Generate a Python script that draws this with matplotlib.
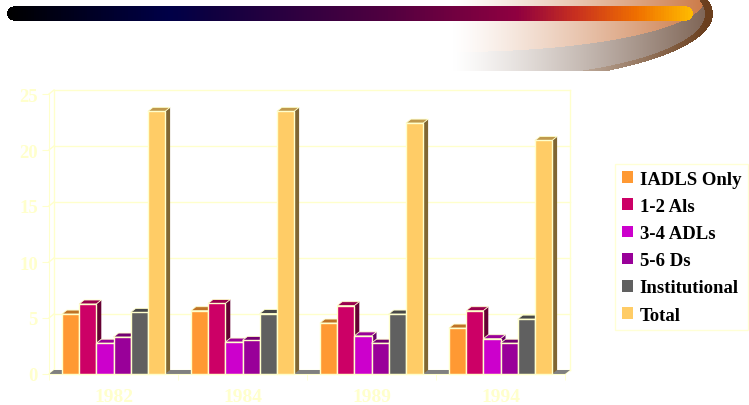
import numpy as np
import matplotlib.pyplot as plt
from matplotlib.patches import Polygon, Patch
from matplotlib.colors import LinearSegmentedColormap, to_rgb

# data
years = ['1982', '1984', '1989', '1994']
series = ['IADLS Only', '1-2 Als', '3-4 ADLs', '5-6 Ds', 'Institutional', 'Total']
iadls = [5.35, 5.65, 4.55, 4.1]
als_12 = [6.25, 6.3, 6.1, 5.65]
adls_34 = [2.75, 2.85, 3.4, 3.15]
ds_56 = [3.3, 3.0, 2.75, 2.75]
institutional = [5.5, 5.4, 5.35, 4.9]
total = [23.45, 23.45, 22.4, 20.85]
values = [iadls, als_12, adls_34, ds_56, institutional, total]
colors = ['#FF9933', '#CC0066', '#CC00CC', '#990099', '#606060', '#FFCC66']

W, H = 749, 406
fig = plt.figure(figsize=(W / 100, H / 100), dpi=100)

# --- header decoration (gradient bar + swoosh) as a background image ---
yy, xx = np.mgrid[0:H, 0:W] + 0.5
img = np.ones((H, W, 3))

t = np.clip((xx - 453) / (705 - 453), 0, 1) ** 1.2
inside = (((xx - 453) / 260) ** 2 + ((yy - 15) / 70.8) ** 2 <= 1) & (yy <= 72) & (xx >= 453)
rim = inside & ~((((xx - 453) / 252) ** 2 + ((yy - 15) / 66) ** 2) <= 1)
lower = inside & ~((((xx - 453) / 252) ** 2 + ((yy - 0) / 53) ** 2) <= 1) & ~rim
upper = inside & ~rim & ~lower
for mask, c in [(upper, (0.80, 0.48, 0.28)), (lower, (0.50, 0.40, 0.34)), (rim, (0.42, 0.25, 0.12))]:
    c = np.array(c)
    img[mask] = (1 - t[mask, None]) * 1.0 + t[mask, None] * c

bar_cmap = LinearSegmentedColormap.from_list('hdr', [
    (0.0, '#000000'), (0.235, '#000048'), (0.30, '#100040'), (0.55, '#500040'),
    (0.745, '#900040'), (0.83, '#C83020'), (0.92, '#F07000'), (1.0, '#FFBB00')])
x0, x1, yc, r = 7, 693, 14.5, 7.2
in_bar = ((xx >= x0 + r) & (xx <= x1 - r) & (np.abs(yy - yc) <= r)) | \
         ((xx - (x0 + r)) ** 2 + (yy - yc) ** 2 <= r ** 2) | \
         ((xx - (x1 - r)) ** 2 + (yy - yc) ** 2 <= r ** 2)
img[in_bar] = bar_cmap(np.clip((xx[in_bar] - x0) / (x1 - x0), 0, 1))[:, :3]

bg = fig.add_axes([0, 0, 1, 1], zorder=0)
bg.imshow(img, extent=(0, W, H, 0), interpolation='nearest')
bg.set_xlim(0, W)
bg.set_ylim(H, 0)
bg.axis('off')

# --- main chart ---
ax_l, ax_b, ax_w, ax_h = 49, 31, 516, 280
ax = fig.add_axes([ax_l / W, ax_b / H, ax_w / W, ax_h / H], zorder=1)
ax.patch.set_alpha(0)
ax.set_xlim(-0.5, 3.5)
ax.set_ylim(0, 25)

wall = '#FFFFCC'
ddx = 5 * 4 / ax_w      # depth offset in data units
ddy = 4 * 25 / ax_h

# back wall, gridlines, left wall diagonals
for v in range(0, 26, 5):
    ax.plot([-0.5 + ddx, 3.5 + ddx], [v + ddy, v + ddy], color=wall, lw=1, zorder=1, clip_on=False)
    ax.plot([-0.5, -0.5 + ddx], [v, v + ddy], color=wall, lw=1, zorder=1, clip_on=False)
ax.plot([-0.5 + ddx] * 2, [ddy, 25 + ddy], color=wall, lw=1, zorder=1, clip_on=False)
ax.plot([3.5 + ddx] * 2, [ddy, 25 + ddy], color=wall, lw=1, zorder=1, clip_on=False)
ax.plot([3.5, 3.5 + ddx], [0, ddy], color=wall, lw=1, zorder=1, clip_on=False)

# floor
ax.add_patch(Polygon([(-0.5, 0), (3.5, 0), (3.5 + ddx, ddy), (-0.5 + ddx, ddy)],
                     closed=True, facecolor='#808080', edgecolor='none', zorder=2, clip_on=False))


def shade(c, f):
    return tuple(np.array(to_rgb(c)) * f)


n = len(series)
bw = 0.8 / n
z = 3
for gi in range(len(years)):
    for si in range(n):
        h = values[si][gi]
        left = gi - 0.4 + si * bw
        right = left + bw
        c = colors[si]
        side = Polygon([(right, 0), (right + ddx, ddy), (right + ddx, h + ddy), (right, h)],
                       closed=True, facecolor=shade(c, 0.5), edgecolor='none', zorder=z, clip_on=False)
        top = Polygon([(left, h), (right, h), (right + ddx, h + ddy), (left + ddx, h + ddy)],
                      closed=True, facecolor=shade(c, 0.75), edgecolor=wall, lw=0.6, zorder=z, clip_on=False)
        front = Polygon([(left, 0), (right, 0), (right, h), (left, h)],
                        closed=True, facecolor=c, edgecolor=wall, lw=1, zorder=z, clip_on=False)
        for p in (side, top, front):
            ax.add_patch(p)
        z += 1

# spines and ticks
for s in ['top', 'right']:
    ax.spines[s].set_visible(False)
ax.spines['left'].set_color(wall)
ax.spines['bottom'].set_color(wall)
ax.spines['bottom'].set_zorder(50)

font = {'family': 'Liberation Serif', 'weight': 'bold'}
ax.set_yticks(range(0, 26, 5))
ax.set_yticklabels([str(v) for v in range(0, 26, 5)], fontdict=font, fontsize=13.5)
ax.tick_params(axis='y', colors=wall, length=5, pad=3)
ax.set_xticks(range(len(years)))
ax.set_xticklabels(years, fontdict=font, fontsize=14)
ax.set_xticks(np.arange(-0.5, 3.6, 1), minor=True)
ax.tick_params(axis='x', which='major', colors=wall, length=0, pad=10)
ax.tick_params(axis='x', which='minor', colors=wall, length=4)

handles = [Patch(facecolor=c, edgecolor='none') for c in colors]
leg = fig.legend(handles, series, loc='upper left', bbox_to_anchor=(615 / W, 1 - 165 / H),
                 frameon=True, fancybox=False, edgecolor=wall, borderaxespad=0,
                 prop={'family': 'Liberation Serif', 'weight': 'bold', 'size': 13.5},
                 labelspacing=0.545, handlelength=0.59, handleheight=0.57,
                 handletextpad=0.37, borderpad=0.35)
leg.get_frame().set_linewidth(1)

fig.savefig('out.png', dpi=100)
